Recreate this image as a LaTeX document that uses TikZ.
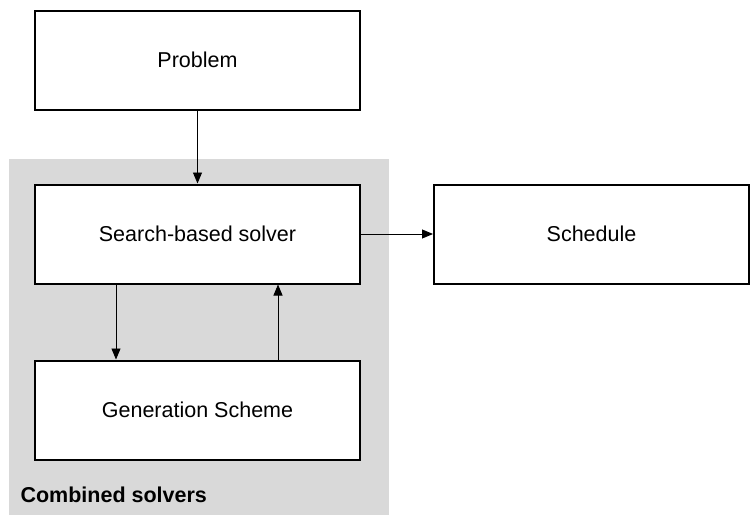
\documentclass[tikz,border=0pt]{standalone}
\usepackage{fontspec}
\setmainfont{Liberation Sans}
\usetikzlibrary{calc}
\usetikzlibrary{positioning}
\usetikzlibrary{arrows.meta}
\usetikzlibrary{backgrounds}
\begin{document}
\begin{tikzpicture}[x=1pt,y=1pt,font=\fontsize{21.5}{26}\selectfont,
box/.style={draw,fill=white,rectangle,line width=2pt,minimum width=325pt,minimum height=99pt,inner sep=0pt},
arr/.style={line width=0.9pt,-{Triangle[length=11pt,width=9pt]}}]
\useasboundingbox (0,0) rectangle (751,-514);
\node[box](1) at (197.5,-60){Problem};
\node[box](2)[below=73pt of 1]{Search-based solver};
\node[box](3)[below=75pt of 2]{Generation Scheme};
\node[box,minimum width=315pt](4)[right=72pt of 2]{Schedule};
\node[anchor=base west,font=\bfseries\fontsize{21.5}{26}\selectfont](5) at ($(3.south west)+(-17,-42)$){Combined solvers};

\begin{scope}[on background layer]
\fill[black!15] ($(2.north west)+(-25,25)$) rectangle ($(3.south east)+(28,-70)$);
\end{scope}

\draw[arr](1)--(2);
\draw[arr](2)--(4);
\draw[arr]([xshift=-81.5pt]2.south)--([xshift=-81.5pt]3.north);
\draw[arr]([xshift=80.5pt]3.north)--([xshift=80.5pt]2.south);

\end{tikzpicture}
\end{document}
